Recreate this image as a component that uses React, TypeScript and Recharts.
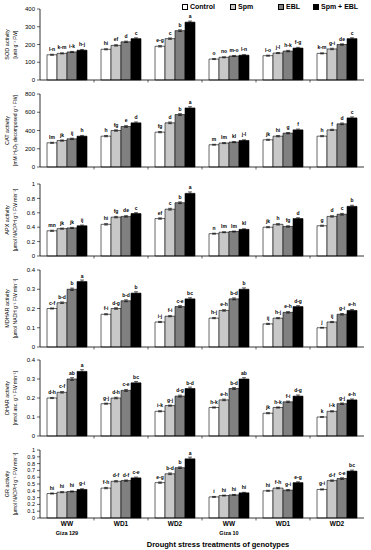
import React from 'react';
import { BarChart, Bar, XAxis, YAxis, ErrorBar, LabelList, Legend } from 'recharts';

const groups = ['WW', 'WD1', 'WD2', 'WW', 'WD1', 'WD2'];
const genotypes = ['Giza 129', '', '', 'Giza 10', '', ''];
const treatments = ['Control', 'Spm', 'EBL', 'Spm + EBL'];
const fills = ['#ffffff', '#c8c8c8', '#808080', '#000000'];

const sodValues = [
  [142, 173, 190, 118, 137, 150],
  [150, 195, 233, 128, 152, 175],
  [158, 215, 278, 135, 163, 200],
  [168, 233, 326, 140, 180, 233],
];
const sodErrors = [
  [3, 3, 4, 3, 3, 3],
  [3, 4, 4, 3, 3, 4],
  [3, 4, 5, 3, 4, 4],
  [4, 5, 6, 3, 4, 5],
];
const sodLetters = [
  ['l-n', 'hi', 'e-g', 'o', 'l-o', 'k-m'],
  ['k-m', 'ef', 'c', 'no', 'j-l', 'g-i'],
  ['i-k', 'd', 'b', 'm-o', 'h-k', 'de'],
  ['h-j', 'c', 'a', 'l-n', 'f-g', 'c'],
];
const sodTicks = [0, 100, 200, 300, 400];

const catValues = [
  [265, 338, 382, 244, 298, 338],
  [290, 400, 484, 262, 338, 407],
  [309, 444, 575, 273, 371, 473],
  [338, 484, 647, 291, 407, 538],
];
const catErrors = [
  [6, 7, 7, 5, 6, 6],
  [7, 8, 9, 6, 7, 7],
  [7, 9, 10, 6, 7, 9],
  [8, 10, 14, 7, 9, 11],
];
const catLetters = [
  ['lm', 'h', 'fg', 'm', 'jk', 'h'],
  ['jk', 'fg', 'd', 'lm', 'hi', 'f'],
  ['ij', 'e', 'b', 'kl', 'g', 'd'],
  ['h', 'd', 'a', 'j-l', 'f', 'c'],
];
const catTicks = [0, 200, 400, 600, 800];

const apxValues = [
  [0.35, 0.44, 0.52, 0.31, 0.4, 0.42],
  [0.38, 0.54, 0.65, 0.33, 0.44, 0.55],
  [0.39, 0.55, 0.74, 0.34, 0.41, 0.58],
  [0.42, 0.59, 0.87, 0.37, 0.52, 0.69],
];
const apxErrors = [
  [0.008, 0.01, 0.01, 0.007, 0.008, 0.008],
  [0.008, 0.01, 0.012, 0.007, 0.01, 0.01],
  [0.008, 0.01, 0.012, 0.007, 0.01, 0.012],
  [0.01, 0.012, 0.02, 0.008, 0.012, 0.015],
];
const apxLetters = [
  ['mn', 'hi', 'ef', 'n', 'jk', 'g'],
  ['jk', 'fg', 'c', 'lm', 'h', 'd'],
  ['jk', 'de', 'b', 'lm', 'fg', 'c'],
  ['ij', 'c', 'a', 'kl', 'd', 'b'],
];
const apxTicks = [0, 0.2, 0.4, 0.6, 0.8, 1];

const mdharValues = [
  [0.2, 0.17, 0.13, 0.15, 0.12, 0.1],
  [0.23, 0.2, 0.16, 0.19, 0.15, 0.13],
  [0.3, 0.24, 0.21, 0.25, 0.18, 0.17],
  [0.34, 0.28, 0.25, 0.3, 0.21, 0.19],
];
const mdharErrors = [
  [0.003, 0.003, 0.003, 0.003, 0.003, 0.002],
  [0.004, 0.004, 0.003, 0.004, 0.003, 0.003],
  [0.006, 0.005, 0.005, 0.005, 0.004, 0.004],
  [0.008, 0.007, 0.006, 0.007, 0.005, 0.005],
];
const mdharLetters = [
  ['c-f', 'f-i', 'i-j', 'h-j', 'ij', 'j'],
  ['b-d', 'd-g', 'f-i', 'e-h', 'h-j', 'ij'],
  ['b', 'b-d', 'c-e', 'b-d', 'e-h', 'g-i'],
  ['a', 'b', 'bc', 'b', 'd-g', 'e-h'],
];
const dharValues = [
  [0.2, 0.17, 0.13, 0.15, 0.12, 0.1],
  [0.23, 0.2, 0.16, 0.19, 0.15, 0.13],
  [0.3, 0.24, 0.21, 0.25, 0.18, 0.17],
  [0.34, 0.28, 0.25, 0.3, 0.21, 0.19],
];
const dharErrors = [
  [0.003, 0.003, 0.003, 0.003, 0.003, 0.002],
  [0.004, 0.004, 0.003, 0.004, 0.003, 0.003],
  [0.007, 0.005, 0.005, 0.005, 0.004, 0.004],
  [0.009, 0.007, 0.007, 0.007, 0.006, 0.005],
];
const dharLetters = [
  ['d-h', 'g-j', 'i-k', 'h-k', 'jk', 'k'],
  ['c-f', 'd-h', 'g-j', 'e-h', 'h-k', 'i-k'],
  ['ab', 'c-e', 'd-g', 'b-d', 'f-i', 'g-j'],
  ['a', 'bc', 'b-d', 'ab', 'd-g', 'e-h'],
];
const smallTicks = [0, 0.1, 0.2, 0.3, 0.4];

const grValues = [
  [0.36, 0.44, 0.52, 0.31, 0.4, 0.42],
  [0.38, 0.54, 0.65, 0.33, 0.44, 0.55],
  [0.39, 0.55, 0.74, 0.34, 0.41, 0.58],
  [0.42, 0.59, 0.87, 0.37, 0.52, 0.69],
];
const grErrors = [
  [0.008, 0.01, 0.01, 0.007, 0.008, 0.008],
  [0.008, 0.01, 0.012, 0.007, 0.01, 0.01],
  [0.008, 0.01, 0.012, 0.007, 0.01, 0.012],
  [0.01, 0.012, 0.025, 0.008, 0.012, 0.015],
];
const grLetters = [
  ['hi', 'f-h', 'e-g', 'i', 'hi', 'g-i'],
  ['hi', 'd-f', 'b-d', 'hi', 'f-h', 'd-f'],
  ['hi', 'd-f', 'b', 'hi', 'g-i', 'c-e'],
  ['g-i', 'c-e', 'a', 'hi', 'e-g', 'bc'],
];
const grTicks = [0, 0.1, 0.2, 0.3, 0.4, 0.5, 0.6, 0.7, 0.8, 0.9, 1];

const FONT = '"Liberation Sans", Arial, sans-serif';
const HALF_BAND = 27;

function buildData(values: number[][], errors: number[][], letters: string[][]) {
  return groups.map((g, i) => {
    const row: any = { id: 'c' + i, group: g, genotype: genotypes[i] };
    for (let k = 0; k < 4; k++) {
      row['v' + k] = values[k][i];
      row['e' + k] = errors[k][i];
      row['l' + k] = letters[k][i];
    }
    return row;
  });
}

function YLabel(props: any) {
  const { viewBox, l1, l2 } = props;
  if (!viewBox) return null;
  const cy = viewBox.y + viewBox.height / 2;
  return (
    <g>
      <text transform={`translate(9, ${cy}) rotate(-90)`} textAnchor="middle" fontSize={5.5} fill="#000">
        {l1}
      </text>
      <text transform={`translate(17, ${cy}) rotate(-90)`} textAnchor="middle" fontSize={5} fill="#000">
        {l2}
      </text>
    </g>
  );
}

function XTick(props: any) {
  const { x, y, index, showText } = props;
  return (
    <g>
      {index < 5 && <line x1={x + HALF_BAND} x2={x + HALF_BAND} y1={y} y2={y + 2.5} stroke="#000" strokeWidth={0.6} />}
      {showText && (
        <text x={x} y={y + 8} textAnchor="middle" fontSize={6.5} fontWeight="bold" fill="#000">
          {groups[index]}
        </text>
      )}
      {showText && genotypes[index] && (
        <text x={x} y={y + 16.5} textAnchor="middle" fontSize={5.5} fontWeight="bold" fill="#000">
          {genotypes[index]}
        </text>
      )}
    </g>
  );
}

function XTitle(props: any) {
  const { viewBox } = props;
  if (!viewBox) return null;
  return (
    <text x={218} y={viewBox.y + 29} textAnchor="middle" fontSize={7.5} fontWeight="bold" fill="#000">
      Drought stress treatments of genotypes
    </text>
  );
}

function Letter(props: any) {
  const { x, y, width, value } = props;
  return (
    <text x={x + width / 2} y={y - 4} textAnchor="middle" fontSize={5} fontWeight="bold" fill="#000" style={{ fill: '#000' }}>
      {value}
    </text>
  );
}

const legendWidths = [48, 48, 35, 48];
function LegendContent() {
  return (
    <div style={{ display: 'flex', alignItems: 'center', fontFamily: FONT, fontSize: 7, fontWeight: 'bold', lineHeight: '8px' }}>
      {treatments.map((t, k) => (
        <div key={t} style={{ display: 'flex', alignItems: 'center', width: legendWidths[k] }}>
          <span style={{ display: 'inline-block', width: 4, height: 4, border: '0.6px solid #000', background: fills[k], marginRight: 2 }} />
          <span>{t}</span>
        </div>
      ))}
    </div>
  );
}

function Panel(props: any) {
  const { values, errors, letters, ticks, max, l1, l2, plotTop, plotH, bottom, legend, tickFont } = props;
  const data = buildData(values, errors, letters);
  const MT = 6;
  const xH = bottom ? 32 : 4;
  return (
    <div style={{ position: 'absolute', left: 0, top: plotTop - MT }}>
      <BarChart
        width={371}
        height={MT + plotH + xH}
        data={data}
        margin={{ top: MT, right: 7, left: 0, bottom: 0 }}
        barCategoryGap="13%"
        barGap={0}
      >
        <XAxis
          dataKey="id"
          tickLine={false}
          tickSize={0}
          tickMargin={0}
          interval={0}
          height={xH}
          axisLine={{ stroke: '#000', strokeWidth: 0.8 }}
          tick={<XTick showText={!!bottom} />}
          label={bottom ? <XTitle /> : undefined}
        />
        <YAxis
          width={40}
          type="number"
          domain={[0, max]}
          ticks={ticks}
          interval={0}
          tickSize={3}
          tickMargin={2}
          tick={{ fontSize: tickFont || 6, fill: '#000' }}
          axisLine={{ stroke: '#000', strokeWidth: 0.8 }}
          tickLine={{ stroke: '#000', strokeWidth: 0.6 }}
          label={<YLabel l1={l1} l2={l2} />}
        />
        {legend && (
          <Legend
            content={<LegendContent />}
            layout="horizontal"
            verticalAlign="middle"
            wrapperStyle={{ top: MT - 6, left: 182, width: 190, height: 8 }}
          />
        )}
        {treatments.map((t, k) => (
          <Bar key={t} dataKey={'v' + k} name={t} fill={fills[k]} stroke="#000" strokeWidth={0.6} isAnimationActive={false}>
            <ErrorBar dataKey={'e' + k} width={2} stroke="#000" strokeWidth={0.6} direction="y" />
            <LabelList dataKey={'l' + k} content={<Letter />} />
          </Bar>
        ))}
      </BarChart>
    </div>
  );
}

export default function App() {
  return (
    <div style={{ position: 'absolute', left: 0, top: 0, width: 371, height: 550, background: '#fff', fontFamily: FONT }}>
      <Panel values={sodValues} errors={sodErrors} letters={sodLetters} ticks={sodTicks} max={400}
        l1="SOD activity" l2="[unit g⁻¹ FW]" plotTop={9} plotH={71} legend />
      <Panel values={catValues} errors={catErrors} letters={catLetters} ticks={catTicks} max={800}
        l1="CAT activity" l2="[mM H₂O₂ decomposed g⁻¹ FW]" plotTop={94} plotH={73} />
      <Panel values={apxValues} errors={apxErrors} letters={apxLetters} ticks={apxTicks} max={1}
        l1="APX activity" l2="[µmol NADPH g⁻¹ FW min⁻¹]" plotTop={184} plotH={72} />
      <Panel values={mdharValues} errors={mdharErrors} letters={mdharLetters} ticks={smallTicks} max={0.4}
        l1="MDHAR activity" l2="[µmol NADH g⁻¹ FW min⁻¹]" plotTop={270} plotH={77} />
      <Panel values={dharValues} errors={dharErrors} letters={dharLetters} ticks={smallTicks} max={0.4}
        l1="DHAR activity" l2="[nmol asc. g⁻¹ FW min⁻¹]" plotTop={360} plotH={76} />
      <Panel values={grValues} errors={grErrors} letters={grLetters} ticks={grTicks} max={1}
        l1="GR activity" l2="[µmol NADPH g⁻¹ FW min⁻¹]" plotTop={450} plotH={68} bottom tickFont={5.5} />
    </div>
  );
}
